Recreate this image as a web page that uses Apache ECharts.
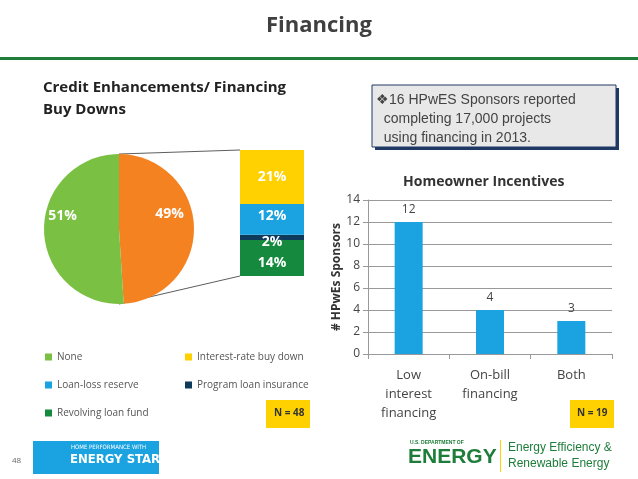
<!DOCTYPE html><html><head><meta charset="utf-8"><script src="https://cdn.jsdelivr.net/npm/echarts@6/dist/echarts.min.js"></script></head><body style="margin:0"><div id="c" style="width:638px;height:479px"></div><script>
const pieNames=['Interest-rate buy down share','None'];
const pieVals=[49,51];
const stackNames=['Revolving loan fund','Program loan insurance','Loan-loss reserve','Interest-rate buy down'];
const stackVals=[14,2,12,21];
const barCats=['Low\ninterest\nfinancing','On-bill\nfinancing','Both'];
const barVals=[12,4,3];
const yTicks=[0,14,2];
const colors={'None':'#7AC143','Interest-rate buy down':'#FFD100','Loan-loss reserve':'#1AA3E0','Program loan insurance':'#0E3A5C','Revolving loan fund':'#158A3E'};
const F='"Open Sans",sans-serif';
const c=echarts.init(document.getElementById('c'));
const legendPos=[['None',40,347],['Interest-rate buy down',180,347],['Loan-loss reserve',40,375],['Program loan insurance',180,375],['Revolving loan fund',40,403]];
c.setOption({
 animation:false,backgroundColor:'#fff',
 title:[{text:'Financing',left:'center',top:10,textStyle:{fontFamily:F,fontSize:22,fontWeight:'bold',color:'#404040'}},
  {text:'Credit Enhancements/ Financing\nBuy Downs',left:38,top:72,textStyle:{fontFamily:F,fontSize:15,fontWeight:'bold',color:'#222',lineHeight:22}},
  {text:'Homeowner Incentives',left:398,top:170,textStyle:{fontFamily:F,fontSize:14,fontWeight:'bold',color:'#333'}}],
 legend:legendPos.map(p=>({data:[p[0]],left:p[1],top:p[2],itemWidth:7,itemHeight:7,icon:'rect',textStyle:{fontFamily:F,fontSize:10,color:'#555'}})),
 grid:[{left:240,top:150,width:64,height:126,show:false},{left:368,top:200,width:244,height:154}],
 xAxis:[{gridIndex:0,type:'category',data:['x'],show:false},
  {gridIndex:1,type:'category',data:barCats,axisLine:{lineStyle:{color:'#999'}},axisTick:{show:true,lineStyle:{color:'#999'}},axisLabel:{fontFamily:F,fontSize:13,color:'#444',lineHeight:19,margin:12}}],
 yAxis:[{gridIndex:0,type:'value',min:0,max:49,show:false},
  {gridIndex:1,type:'value',min:yTicks[0],max:yTicks[1],interval:yTicks[2],name:'# HPwEs Sponsors',nameLocation:'middle',nameGap:24,nameTextStyle:{fontFamily:F,fontSize:12,fontWeight:'bold',color:'#333'},axisLine:{show:true,lineStyle:{color:'#999'}},axisTick:{show:true,lineStyle:{color:'#999'}},splitLine:{lineStyle:{color:'#999'}},axisLabel:{fontFamily:F,fontSize:12,color:'#444'}}],
 series:[
  {type:'pie',center:[119,229],radius:75,startAngle:90,clockwise:true,label:{show:true,position:'inside',formatter:'{c}%',fontFamily:F,fontSize:14,fontWeight:'bold',color:'#fff'},labelLine:{show:false},
   data:[{name:pieNames[0],value:pieVals[0],itemStyle:{color:'#F58220'},label:{offset:[10,-14]}},{name:pieNames[1],value:pieVals[1],itemStyle:{color:'#7AC143'},label:{offset:[-16,-14]}}]},
  ...stackNames.map((n,i)=>({type:'bar',name:n,xAxisIndex:0,yAxisIndex:0,stack:'s',barWidth:64,data:[stackVals[i]],itemStyle:{color:colors[n]},
   label:{show:true,position:'inside',formatter:'{c}%',fontFamily:F,fontSize:14,fontWeight:'bold',color:'#fff',offset:[[0,5],[0,5],[0,-3],[0,0]][i]}})),
  {type:'bar',name:'bars',xAxisIndex:1,yAxisIndex:1,data:barVals,barWidth:28,itemStyle:{color:'#1AA3E0'},label:{show:true,position:'top',fontFamily:F,fontSize:12,color:'#444',distance:6}},
  {type:'pie',name:'legendOnly',radius:0,center:[-100,-100],label:{show:false},silent:true,data:[{name:'None',value:0,itemStyle:{color:'#7AC143'}}]}
 ],
 graphic:[
  {type:'rect',shape:{x:0,y:57,width:638,height:3},style:{fill:'#1E7D3A'}},
  {type:'line',shape:{x1:119,y1:154,x2:240,y2:150},style:{stroke:'#333',lineWidth:0.8}},
  {type:'line',shape:{x1:119,y1:304,x2:240,y2:276},style:{stroke:'#333',lineWidth:0.8}},
  {type:'rect',shape:{x:375,y:88,width:244,height:62},style:{fill:'#1F3864'}},
  {type:'rect',shape:{x:372,y:85,width:244,height:62},style:{fill:'#E8E8E8',stroke:'#1F3864',lineWidth:1}},
  {type:'text',left:376,top:91,style:{text:'❖16 HPwES Sponsors reported\n  completing 17,000 projects\n  using financing in 2013.',font:'14px "Liberation Sans",Arial',fill:'#444',lineHeight:19}},
  {type:'rect',shape:{x:266,y:400,width:44,height:28},style:{fill:'#FFD100'}},
  {type:'text',left:274,top:408,style:{text:'N = 48',font:'bold 10px "Open Sans"',fill:'#333'}},
  {type:'rect',shape:{x:570,y:400,width:44,height:28},style:{fill:'#FFD100'}},
  {type:'text',left:577,top:408,style:{text:'N = 19',font:'bold 10px "Open Sans"',fill:'#333'}},
  {type:'text',left:12,top:457,style:{text:'48',font:'8px "Open Sans"',fill:'#666'}},
  {type:'rect',shape:{x:33,y:441,width:126,height:33},style:{fill:'#1AA3E0'}},
  {type:'text',left:71,top:444,style:{text:'HOME PERFORMANCE WITH',font:'6px "DejaVu Sans Condensed"',fill:'#fff'}},
  {type:'text',left:70,top:453,style:{text:'ENERGY STAR',font:'bold 13px "DejaVu Sans Condensed"',fill:'#fff'}},
  {type:'text',left:410,top:440,style:{text:'U.S. DEPARTMENT OF',font:'bold 5px "Liberation Sans"',fill:'#1E7D3A'}},
  {type:'text',left:408,top:447,style:{text:'ENERGY',font:'bold 21px "Liberation Sans"',fill:'#1E7D3A'}},
  {type:'rect',shape:{x:500,y:440,width:1,height:32},style:{fill:'#FFD100'}},
  {type:'text',left:508,top:440,style:{text:'Energy Efficiency &\nRenewable Energy',font:'12px "Liberation Sans"',fill:'#1E7D3A',lineHeight:16}}
 ]
});
</script></body></html>
